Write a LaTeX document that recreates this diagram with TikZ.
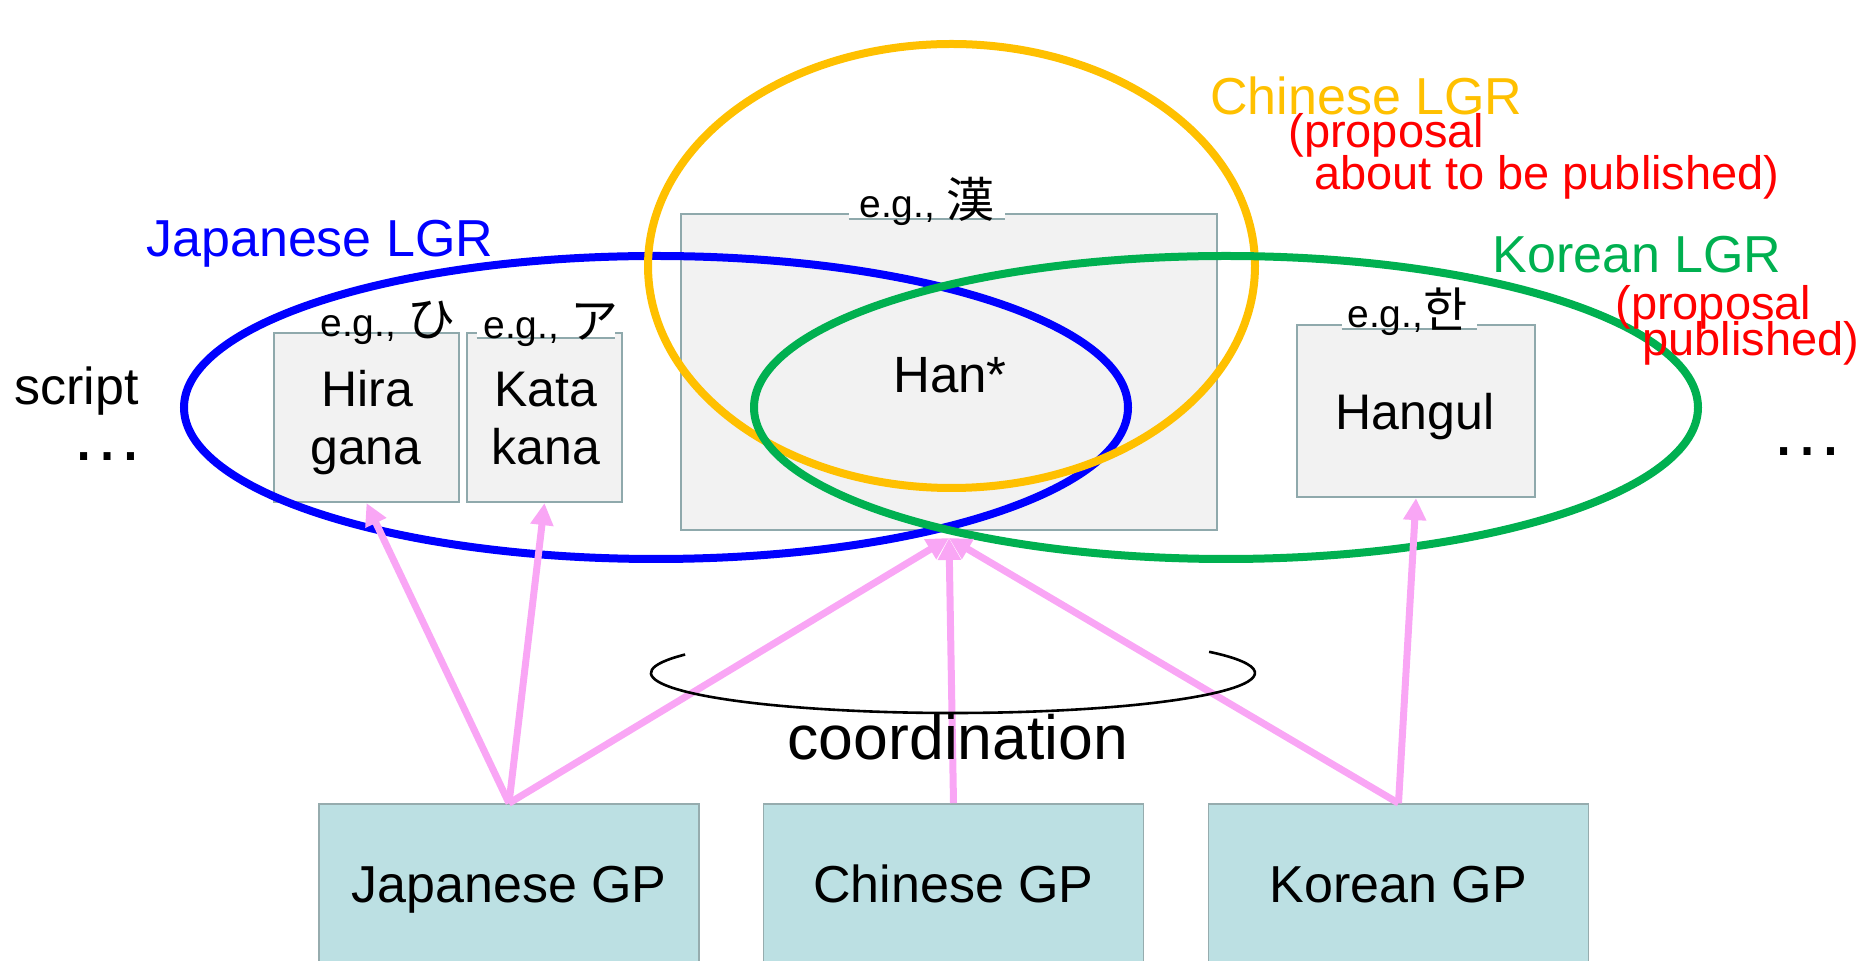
\documentclass[tikz,border=0pt]{standalone}
\usepackage{fontspec}
\setmainfont{Liberation Sans}
\newfontfamily\jpfont{Noto Sans CJK JP}
\newfontfamily\krfont{Noto Sans CJK KR}
\usetikzlibrary{arrows.meta}
\definecolor{lgrblue}{RGB}{0,0,255}
\definecolor{lgrgreen}{RGB}{0,176,80}
\definecolor{lgrorange}{RGB}{255,192,0}
\definecolor{lgrred}{RGB}{255,0,0}
\definecolor{arrowpink}{RGB}{249,166,245}
\definecolor{scriptfill}{RGB}{242,242,242}
\definecolor{scriptline}{RGB}{143,169,172}
\definecolor{gpfill}{RGB}{188,224,227}
\definecolor{gpline}{RGB}{150,172,174}
\newcommand\fsize[1]{\fontsize{#1}{#1}\selectfont}
\begin{document}
\begin{tikzpicture}[x=0.5pt,y=-0.5pt,
  scriptbox/.style={draw=scriptline,line width=1.1pt,fill=scriptfill,inner sep=0pt},
  gpbox/.style={draw=gpline,line width=0.8pt,fill=gpfill,inner sep=0pt,minimum width=190pt,minimum height=85.5pt,font=\fsize{26pt},text height=19pt,text depth=5.5pt},
  boxtext/.style={inner sep=0pt,font=\fsize{25pt},anchor=base},
  lgr/.style={line width=4pt},
  lgrtext/.style={inner sep=0pt,font=\fsize{26pt},anchor=base west},
  redtext/.style={inner sep=0pt,font=\fsize{23.5pt},anchor=base west,text=lgrred},
  gparrow/.style={draw=arrowpink,line width=3.5pt,-{Triangle[length=11pt,width=11pt]}},
  eglabel/.style={inner sep=0pt,font=\fsize{19.5pt},anchor=base west},
  egpatch/.style={fill=white,inner sep=0pt,anchor=south},
  egline/.style={draw=scriptline,line width=0.8pt},
]
\useasboundingbox (0,0) rectangle (1865,961);
\clip (0,0) rectangle (1865,961);

% script boxes
\node[scriptbox,minimum width=268pt,minimum height=158pt] (han) at (949,372) {};
\node[scriptbox,minimum width=92.5pt,minimum height=84.5pt] (hira) at (366.5,417.5) {};
\node[scriptbox,minimum width=77.5pt,minimum height=84.5pt] (kata) at (544.5,417.5) {};
\node[scriptbox,minimum width=119pt,minimum height=86pt] (hangul) at (1416,411) {};

% e.g. labels
\node[egpatch,minimum width=78pt,minimum height=15pt] (hanpatch) at (927,219) {};
\draw[egline] (hanpatch.south west) -- (hanpatch.south east);
\node[eglabel] (hanlab) at (859,218) {e.g., {\jpfont\fsize{24pt}漢}};

\node[eglabel] (hiralab) at (320,337) {e.g., {\jpfont\fsize{24pt}ひ}};

\node[egpatch,minimum width=69pt,minimum height=9pt] (katapatch) at (546,338) {};
\draw[egline] (katapatch.south west) -- (katapatch.south east);
\node[eglabel] (katalab) at (483,339) {e.g., {\jpfont\fsize{24pt}ア}};

\node[egpatch,minimum width=67.5pt,minimum height=9pt] (hangulpatch) at (1409.5,329) {};
\draw[egline] (hangulpatch.south west) -- (hangulpatch.south east);
\node[eglabel] (hangullab) at (1347,328) {e.g.,{\krfont\fsize{24pt}한}};

% box texts
\node[boxtext] (hiraA) at (367,407) {Hira};
\node[boxtext] (hiraB) at (366,465) {gana};
\node[boxtext] (kataA) at (545.5,407) {Kata};
\node[boxtext] (kataB) at (546,465) {kana};
\node[boxtext,font=\fsize{25.5pt}] (hantext) at (950,393) {Han*};
\node[boxtext] (hangultext) at (1415,430) {Hangul};

% LGR ellipses
\draw[lgr,lgrblue] (656,407.5) ellipse [x radius=236pt, y radius=75.75pt];
\draw[lgr,lgrorange] (951.5,266) ellipse [x radius=151.75pt, y radius=111pt];
\draw[lgr,lgrgreen] (1226,407.5) ellipse [x radius=236pt, y radius=75.75pt];

% GP boxes
\node[gpbox] (jgp) at (509,889.5) {Japanese GP};
\node[gpbox] (cgp) at (953.5,889.5) {Chinese GP};
\node[gpbox] (kgp) at (1398.5,889.5) {Korean GP};

% arrows
\coordinate (hanin) at (949,538);
\draw[gparrow] (jgp.north) -- (hira.south);
\draw[gparrow] (jgp.north) -- (kata.south);
\draw[gparrow] (jgp.north) -- (hanin);
\draw[gparrow] (cgp.north) -- (hanin);
\draw[gparrow] (kgp.north) -- (hanin);
\draw[gparrow] (kgp.north) -- (hangul.south);

% coordination
\coordinate (coordc) at (953,673);
\draw[line width=1.3pt] (coordc) ++(152.5:151pt and 20pt) arc[start angle=152.5, end angle=392, x radius=151pt, y radius=20pt];
\node[inner sep=0pt,font=\fsize{31.25pt},anchor=base] (coordtext) at (958,760) {coordination};

% LGR labels
\node[lgrtext,text=lgrblue] (jlgr) at (146,257) {Japanese LGR};
\node[lgrtext,text=lgrorange] (clgr) at (1210,115) {Chinese LGR};
\node[redtext] (cprop1) at (1288,148) {(proposal};
\node[redtext] (cprop2) at (1314,190) {about to be published)};
\node[lgrtext,text=lgrgreen] (klgr) at (1492,273) {Korean LGR};
\node[redtext] (kprop1) at (1615,320) {(proposal};
\node[redtext] (kprop2) at (1642,356) {published)};

% side texts
\node[lgrtext] (scripttext) at (14,405) {script};
\node[inner sep=0pt,font=\fsize{37pt},anchor=base west] (dotsL) at (70,461) {…};
\node[inner sep=0pt,font=\fsize{37pt},anchor=base west] (dotsR) at (1770,456) {…};
\end{tikzpicture}
\end{document}
